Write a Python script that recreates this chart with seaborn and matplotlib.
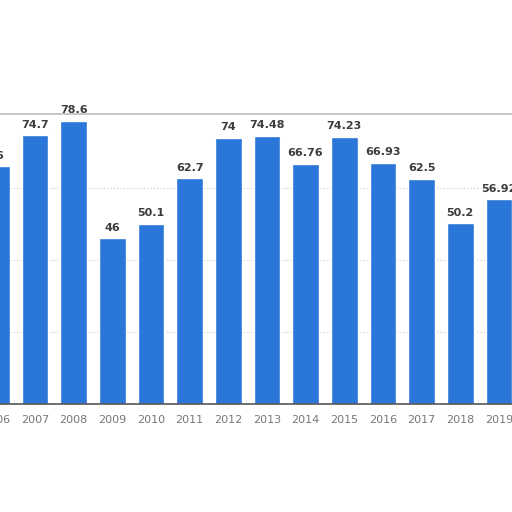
import pandas as pd
import matplotlib
matplotlib.use('Agg')
import matplotlib.pyplot as plt
import matplotlib.transforms as mtransforms
import seaborn as sns

years = ['2006', '2007', '2008', '2009', '2010', '2011', '2012',
         '2013', '2014', '2015', '2016', '2017', '2018', '2019']
values = [66, 74.7, 78.6, 46, 50.1, 62.7, 74, 74.48, 66.76, 74.23,
          66.93, 62.5, 50.2, 56.92]
labels = ['66', '74.7', '78.6', '46', '50.1', '62.7', '74', '74.48',
          '66.76', '74.23', '66.93', '62.5', '50.2', '56.92']

df = pd.DataFrame({'Year': years, 'Value': values})

sns.set_style('white')
fig = plt.figure(figsize=(5.12, 5.12), dpi=100)
ax = fig.add_axes([0, 108 / 512, 1, 288 / 512])

sns.barplot(x='Year', y='Value', data=df, color='#2a76d9', width=0.69,
            saturation=1, ax=ax)

ax.set_ylim(0, 80)
ax.set_xlim(0.096, 13.34)

# dotted grid like the screenshot
for g in [20, 40, 60]:
    ax.axhline(g, color='#c8c8c8', lw=0.8, ls=(0, (1, 2)), zorder=0)
ax.axhline(80.6, color='#bdbdbd', lw=1.2, zorder=0, clip_on=False)

for i, (v, t) in enumerate(zip(values, labels)):
    ax.annotate(t, (i, v), xytext=(0, 4), textcoords='offset points',
                ha='center', va='bottom', fontsize=8, fontweight='bold',
                color='#3c3c3c', annotation_clip=False)

# year labels as text so the cut-off first one still shows
trans = mtransforms.blended_transform_factory(ax.transData, ax.transAxes)
for i, y in enumerate(years):
    ax.annotate(y, (i, 0), xycoords=trans, xytext=(0, -8),
                textcoords='offset points', ha='center', va='top',
                fontsize=8, color='#777777', annotation_clip=False)

for s in ['top', 'left', 'right']:
    ax.spines[s].set_visible(False)
ax.spines['bottom'].set_color('#555555')
ax.spines['bottom'].set_linewidth(1.2)

ax.set_yticks([])
ax.set_xticks([])
ax.set_xlabel('')
ax.set_ylabel('')

plt.savefig('out.png', dpi=100)
